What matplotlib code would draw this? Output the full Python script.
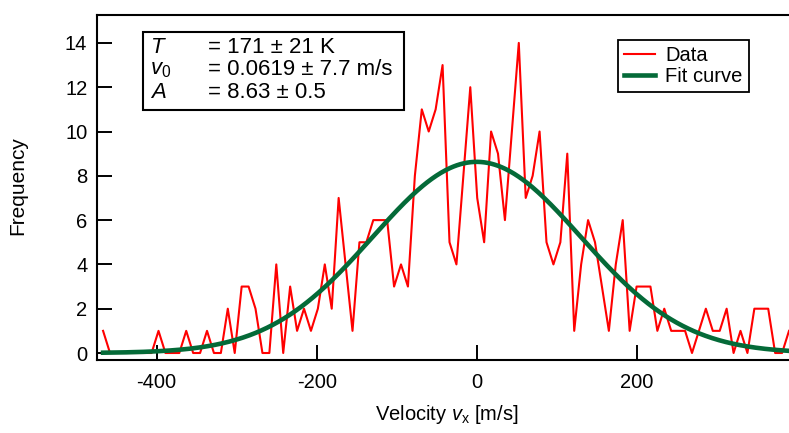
import numpy as np
import matplotlib
matplotlib.use("Agg")
import matplotlib.pyplot as plt
from matplotlib.patches import Rectangle

# Histogram of the x-velocity component (counts per bin)
counts = [1, 0, 0, 0, 0, 0, 0, 0, 1, 0,
          0, 0, 1, 0, 0, 1, 0, 0, 2, 0,
          3, 3, 2, 0, 0, 4, 0, 3, 1, 2,
          1, 2, 4, 2, 7, 4, 1, 5, 5, 6,
          6, 6, 3, 4, 3, 8, 11, 10, 11, 13,
          5, 4, 8, 12, 7, 5, 10, 9, 6, 10,
          14, 7, 8, 10, 5, 4, 5, 9, 1, 4,
          6, 5, 3, 1, 4, 6, 1, 3, 3, 3,
          1, 2, 1, 1, 1, 0, 1, 2, 1, 1,
          2, 0, 1, 0, 2, 2, 2, 0, 0, 1]
v_first = -467.0      # centre of the first bin [m/s]
v_step = 8.66         # bin width [m/s]
velocity = v_first + v_step * np.arange(len(counts))

# Maxwell-Boltzmann fit parameters
T_fit, T_err = 171, 21
v0_fit, v0_err = 0.0619, 7.7
A_fit, A_err = 8.63, 0.5
mass_amu = 83.798
k_B = 1.380649e-23
amu = 1.66053907e-27

x_ticks = [-400, -200, 0, 200]
y_ticks = [0, 2, 4, 6, 8, 10, 12, 14]

plt.rcParams['font.family'] = ['Liberation Sans', 'DejaVu Sans']
plt.rcParams['mathtext.fontset'] = 'custom'
plt.rcParams['mathtext.rm'] = 'Liberation Sans'
plt.rcParams['mathtext.it'] = 'Liberation Sans:italic'

FS = 14.5
BOX_FS = 16

W, H = 789, 433
fig = plt.figure(figsize=(W / 100, H / 100), dpi=100)
ax = fig.add_axes([97 / W, 73 / H, 692 / W, 345 / H])

red = '#ff0000'
green = '#046a38'

m = mass_amu * amu
v_fine = np.linspace(velocity[0], velocity[-1], 600)
fit = A_fit * np.exp(-m * (v_fine - v0_fit) ** 2 / (2 * k_B * T_fit))

ax.plot(velocity, counts, color=red, lw=1.5, label='Data', zorder=2)
ax.plot(v_fine, fit, color=green, lw=3.3, label='Fit curve', zorder=3)

ax.set_xlim(-474.6, velocity[-1])
ax.set_ylim(-0.316, 15.26)
ax.set_xticks(x_ticks)
ax.set_yticks(y_ticks)
ax.set_xticklabels([str(t) for t in x_ticks])
ax.tick_params(direction='in', length=11, width=1.4, color='black',
               labelsize=FS)
ax.tick_params(axis='x', pad=9)
ax.tick_params(axis='y', pad=7)
for side in ('left', 'bottom', 'top'):
    ax.spines[side].set_linewidth(1.5)
ax.spines['right'].set_visible(False)

fig.text(18 / W, 1 - 186 / H, 'Frequency', rotation=90,
         ha='center', va='center', fontsize=FS + 0.5)
fig.text(447 / W, 1 - 414 / H, r'Velocity $v_{\mathrm{x}}$ [m/s]',
         ha='center', va='center', fontsize=FS)

# Parameter box
ax.add_patch(Rectangle((0.0665, 0.7246), 0.3765, 0.2264,
                       transform=ax.transAxes, facecolor='white',
                       edgecolor='black', lw=1.5, zorder=4))
names = [r'$T$', r'$v_0$', r'$A$']
values = [f'= {T_fit} ± {T_err} K',
          f'= {v0_fit} ± {v0_err} m/s',
          f'= {A_fit} ± {A_err}']
rows_y = [0.907, 0.8406, 0.774]
for nm, val, yy in zip(names, values, rows_y):
    ax.text(0.0766, yy, nm, transform=ax.transAxes, ha='left',
            va='center', fontsize=BOX_FS, zorder=5)
    ax.text(0.16, yy, val, transform=ax.transAxes, ha='left',
            va='center', fontsize=BOX_FS, zorder=5)

leg = ax.legend(loc='upper left', bbox_to_anchor=(0.753, 0.9275),
                frameon=True, fancybox=False, edgecolor='black',
                framealpha=1, borderpad=0.3, handlelength=1.55,
                handletextpad=0.5, labelspacing=0.1, borderaxespad=0,
                fontsize=FS)
leg.get_frame().set_linewidth(1.3)

fig.savefig('out.png', dpi=100)
